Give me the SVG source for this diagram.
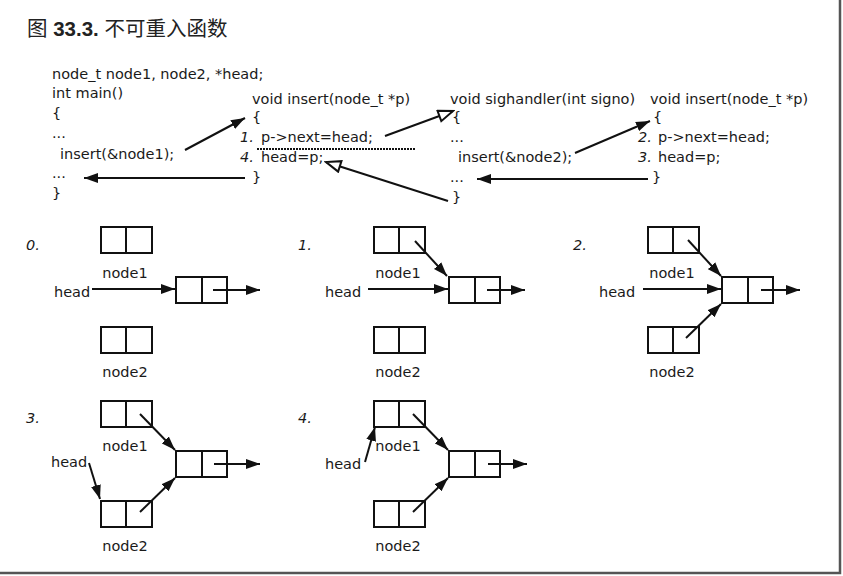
<svg xmlns="http://www.w3.org/2000/svg" width="843" height="576" viewBox="0 0 843 576">
<style>
.t{font-family:"DejaVu Sans",sans-serif;font-size:14.5px;fill:#1a1a1a}
.i{font-family:"DejaVu Sans",sans-serif;font-size:14.5px;font-style:italic;fill:#1a1a1a}
.lb{font-family:"DejaVu Sans",sans-serif;font-size:14.5px;fill:#1a1a1a;text-anchor:middle}
.box{fill:#fff;stroke:#111;stroke-width:2}
.dv{stroke:#111;stroke-width:2}
.c{stroke:#111;stroke-width:2;fill:none}
.title{font-family:"Liberation Sans","Noto Sans CJK SC",sans-serif;font-size:20.5px;fill:#222}
</style>
<defs>
<marker id="a" markerUnits="userSpaceOnUse" markerWidth="15" markerHeight="11" refX="14" refY="5.5" orient="auto"><path d="M0,0.5 L14,5.5 L0,10.5 z" fill="#111"/></marker>
<marker id="o" markerUnits="userSpaceOnUse" markerWidth="18" markerHeight="14" refX="16" refY="7" orient="auto"><path d="M1.5,1.5 L16,7 L1.5,12.5 z" fill="#fff" stroke="#111" stroke-width="2"/></marker>
</defs>
<rect width="843" height="576" fill="#fff"/>
<path d="M840,0 V573 H0" fill="none" stroke="#555" stroke-width="2.5"/>
<text class="title" x="27" y="36">图 <tspan font-weight="bold">33.3.</tspan> 不可重入函数</text>

<g id="main">
<text class="t" x="52" y="79">node_t node1, node2, *head;</text>
<text class="t" x="52" y="98">int main()</text>
<text class="t" x="52" y="118">{</text>
<text class="t" x="52" y="138">...</text>
<text class="t" x="60" y="159">insert(&amp;node1);</text>
<text class="t" x="52" y="178">...</text>
<text class="t" x="52" y="198">}</text>
</g>
<g id="insert1">
<text class="t" x="252" y="104">void insert(node_t *p)</text>
<text class="t" x="252" y="122">{</text>
<text class="i" x="240" y="142">1.</text>
<text class="t" x="261" y="142">p-&gt;next=head;</text>
<text class="i" x="240" y="162">4.</text>
<text class="t" x="261" y="162">head=p;</text>
<text class="t" x="252" y="182">}</text>
</g>
<g id="sighandler">
<text class="t" x="450" y="104">void sighandler(int signo)</text>
<text class="t" x="452" y="122">{</text>
<text class="t" x="450" y="142">...</text>
<text class="t" x="458" y="162">insert(&amp;node2);</text>
<text class="t" x="450" y="182">...</text>
<text class="t" x="452" y="202">}</text>
</g>
<g id="insert2">
<text class="t" x="650" y="104">void insert(node_t *p)</text>
<text class="t" x="653" y="122">{</text>
<text class="i" x="638" y="142">2.</text>
<text class="t" x="658" y="142">p-&gt;next=head;</text>
<text class="i" x="638" y="162">3.</text>
<text class="t" x="658" y="162">head=p;</text>
<text class="t" x="652" y="182">}</text>
</g>

<g id="p0">
<text class="i" x="26" y="250">0.</text>
<g id="p0-node1"><rect class="box" x="101" y="227" width="51" height="26"/><line class="dv" x1="126" y1="227" x2="126" y2="253"/><text class="lb" x="125" y="278">node1</text></g>
<g id="p0-node2"><rect class="box" x="101" y="327" width="51" height="26"/><line class="dv" x1="126" y1="327" x2="126" y2="353"/><text class="lb" x="125" y="377">node2</text></g>
<g id="p0-list"><rect class="box" x="176" y="277" width="51" height="26"/><line class="dv" x1="202" y1="277" x2="202" y2="303"/></g>
<text class="t" x="54" y="297">head</text>
</g>
<g id="p1">
<text class="i" x="298" y="250">1.</text>
<g id="p1-node1"><rect class="box" x="374" y="227" width="51" height="26"/><line class="dv" x1="399" y1="227" x2="399" y2="253"/><text class="lb" x="398" y="278">node1</text></g>
<g id="p1-node2"><rect class="box" x="374" y="327" width="51" height="26"/><line class="dv" x1="399" y1="327" x2="399" y2="353"/><text class="lb" x="398" y="377">node2</text></g>
<g id="p1-list"><rect class="box" x="449" y="277" width="51" height="26"/><line class="dv" x1="475" y1="277" x2="475" y2="303"/></g>
<text class="t" x="325" y="297">head</text>
</g>
<g id="p2">
<text class="i" x="573" y="250">2.</text>
<g id="p2-node1"><rect class="box" x="648" y="227" width="51" height="26"/><line class="dv" x1="673" y1="227" x2="673" y2="253"/><text class="lb" x="672" y="278">node1</text></g>
<g id="p2-node2"><rect class="box" x="648" y="327" width="51" height="26"/><line class="dv" x1="673" y1="327" x2="673" y2="353"/><text class="lb" x="672" y="377">node2</text></g>
<g id="p2-list"><rect class="box" x="722" y="277" width="51" height="26"/><line class="dv" x1="748" y1="277" x2="748" y2="303"/></g>
<text class="t" x="599" y="297">head</text>
</g>
<g id="p3">
<text class="i" x="26" y="423">3.</text>
<g id="p3-node1"><rect class="box" x="101" y="401" width="51" height="26"/><line class="dv" x1="126" y1="401" x2="126" y2="427"/><text class="lb" x="125" y="451">node1</text></g>
<g id="p3-node2"><rect class="box" x="101" y="501" width="51" height="26"/><line class="dv" x1="126" y1="501" x2="126" y2="527"/><text class="lb" x="125" y="551">node2</text></g>
<g id="p3-list"><rect class="box" x="176" y="451" width="51" height="26"/><line class="dv" x1="202" y1="451" x2="202" y2="477"/></g>
<text class="t" x="51" y="467">head</text>
</g>
<g id="p4">
<text class="i" x="298" y="423">4.</text>
<g id="p4-node1"><rect class="box" x="374" y="401" width="51" height="26"/><line class="dv" x1="399" y1="401" x2="399" y2="427"/><text class="lb" x="398" y="451">node1</text></g>
<g id="p4-node2"><rect class="box" x="374" y="501" width="51" height="26"/><line class="dv" x1="399" y1="501" x2="399" y2="527"/><text class="lb" x="398" y="551">node2</text></g>
<g id="p4-list"><rect class="box" x="449" y="451" width="51" height="26"/><line class="dv" x1="475" y1="451" x2="475" y2="477"/></g>
<text class="t" x="325" y="469">head</text>
</g>

<g id="connectors">
<line x1="257" y1="149" x2="415" y2="149" stroke="#111" stroke-width="2" stroke-dasharray="2,1"/>
<line class="c" x1="185" y1="150" x2="245" y2="118" marker-end="url(#a)"/>
<line class="c" x1="245" y1="178" x2="84" y2="178" marker-end="url(#a)"/>
<line class="c" x1="385" y1="136" x2="453" y2="111" marker-end="url(#o)"/>
<line class="c" x1="448" y1="201" x2="326" y2="162" marker-end="url(#o)"/>
<line class="c" x1="575" y1="153" x2="650" y2="121" marker-end="url(#a)"/>
<line class="c" x1="648" y1="179" x2="477" y2="179" marker-end="url(#a)"/>

<line class="c" x1="92" y1="289" x2="175" y2="289" marker-end="url(#a)"/>
<line class="c" x1="213" y1="290" x2="260" y2="290" marker-end="url(#a)"/>

<line class="c" x1="415" y1="241" x2="447" y2="276" marker-end="url(#a)"/>
<line class="c" x1="368" y1="289" x2="448" y2="289" marker-end="url(#a)"/>
<line class="c" x1="487" y1="290" x2="525" y2="290" marker-end="url(#a)"/>

<line class="c" x1="688" y1="240" x2="721" y2="276" marker-end="url(#a)"/>
<line class="c" x1="643" y1="289" x2="721" y2="289" marker-end="url(#a)"/>
<line class="c" x1="686" y1="338" x2="721" y2="304" marker-end="url(#a)"/>
<line class="c" x1="761" y1="290" x2="800" y2="290" marker-end="url(#a)"/>

<line class="c" x1="140" y1="414" x2="175" y2="450" marker-end="url(#a)"/>
<line class="c" x1="89" y1="463" x2="100" y2="499" marker-end="url(#a)"/>
<line class="c" x1="140" y1="512" x2="175" y2="478" marker-end="url(#a)"/>
<line class="c" x1="214" y1="464" x2="260" y2="464" marker-end="url(#a)"/>

<line class="c" x1="413" y1="414" x2="448" y2="450" marker-end="url(#a)"/>
<line class="c" x1="365" y1="462" x2="375" y2="427" marker-end="url(#a)"/>
<line class="c" x1="413" y1="512" x2="448" y2="478" marker-end="url(#a)"/>
<line class="c" x1="488" y1="464" x2="527" y2="464" marker-end="url(#a)"/>
</g>
</svg>
